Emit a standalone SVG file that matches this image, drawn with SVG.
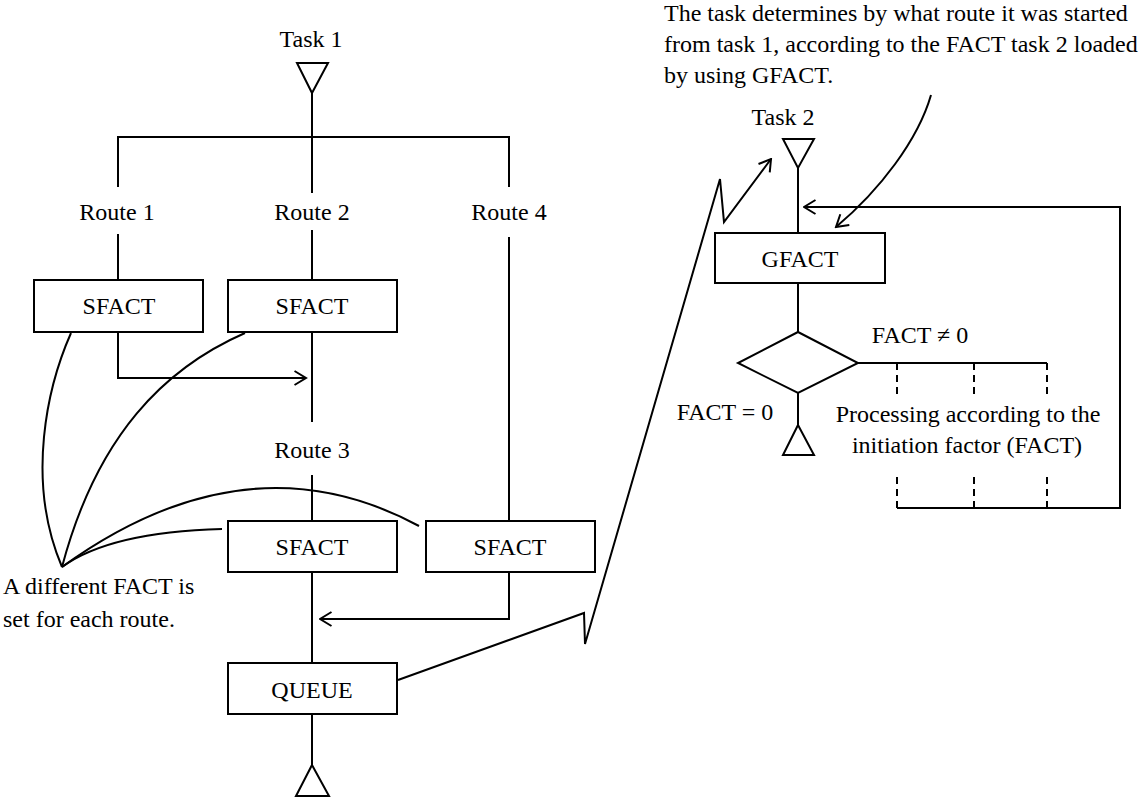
<svg xmlns="http://www.w3.org/2000/svg" width="1140" height="798" viewBox="0 0 1140 798">
  <defs>
    <marker id="open-arrow" viewBox="0 0 14 16" refX="12.5" refY="8" markerWidth="14" markerHeight="16" markerUnits="userSpaceOnUse" orient="auto">
      <path d="M1,1 L12.5,8 L1,15" fill="none" stroke="#000" stroke-width="2"/>
    </marker>
    <style>
      .ln { fill: none; stroke: #000; stroke-width: 2; }
      .dash { fill: none; stroke: #000; stroke-width: 2; stroke-dasharray: 7 5; }
      .box { fill: #fff; stroke: #000; stroke-width: 2; }
      .tri { fill: #fff; stroke: #000; stroke-width: 2; stroke-linejoin: miter; }
      .lbl { font-family: 'Liberation Serif', Tinos, 'DejaVu Serif', serif; font-size: 24px; fill: #000; }
      .c { text-anchor: middle; }
    </style>
  </defs>
  <rect width="1140" height="798" fill="#fff"/>

  <!-- connectors -->
  <g id="connectors">
    <!-- task 1 fan-out -->
    <path class="ln" d="M312,93 V193"/>
    <path class="ln" d="M118,187 V137 H509 V187"/>
    <path class="ln" d="M118,234 V280"/>
    <path class="ln" d="M312,230 V280"/>
    <path class="ln" d="M509,237 V521"/>
    <path class="ln" d="M312,332 V422"/>
    <path class="ln" d="M312,475 V521"/>
    <path class="ln" d="M312,572 V663"/>
    <path class="ln" d="M312,714 V765"/>
    <path class="ln" d="M118,332 V378 H306" marker-end="url(#open-arrow)"/>
    <path class="ln" d="M509,572 V619 H320" marker-end="url(#open-arrow)"/>
    <!-- start of task 2 from QUEUE -->
    <path class="ln" d="M398,680 L584,613 L585,644 L720,179 L724,222 L771,159" marker-end="url(#open-arrow)"/>
    <!-- annotation leaders -->
    <path class="ln" d="M71,333 C48,385 25,480 62,567"/>
    <path class="ln" d="M245,333 C165,368 97,435 62,567"/>
    <path class="ln" d="M222,529 Q110,532 62,567"/>
    <path class="ln" d="M419,526 C330,478 210,460 62,567"/>
    <path class="ln" d="M931,95 C918,140 880,190 836,227" marker-end="url(#open-arrow)"/>
    <!-- task 2 flow -->
    <path class="ln" d="M798,168 V233"/>
    <path class="ln" d="M798,283 V332"/>
    <path class="ln" d="M798,393 V425"/>
    <path class="ln" d="M858,363 H1047"/>
    <path class="dash" d="M897,363 V397 M974,363 V397 M1047,363 V397"/>
    <path class="dash" d="M897,477 V508 M974,477 V508 M1047,477 V508"/>
    <path class="ln" d="M897,508 H1120 V207 H804" marker-end="url(#open-arrow)"/>
  </g>

  <g class="lbl" font-family="Liberation Serif, Tinos, DejaVu Serif, serif" font-size="24">
    <g id="task1">
      <text class="c" x="311" y="47">Task 1</text>
      <polygon class="tri" points="297,63 328,63 312,93"/>
    </g>
    <g id="route1-label"><text class="c" x="117" y="220">Route 1</text></g>
    <g id="route2-label"><text class="c" x="312" y="220">Route 2</text></g>
    <g id="route4-label"><text class="c" x="509" y="220">Route 4</text></g>
    <g id="route3-label"><text class="c" x="312" y="458">Route 3</text></g>

    <g id="sfact1">
      <rect class="box" x="34" y="280" width="169" height="52"/>
      <text class="c" x="119" y="314">SFACT</text>
    </g>
    <g id="sfact2">
      <rect class="box" x="228" y="280" width="169" height="52"/>
      <text class="c" x="312" y="314">SFACT</text>
    </g>
    <g id="sfact3">
      <rect class="box" x="228" y="521" width="169" height="51"/>
      <text class="c" x="312" y="555">SFACT</text>
    </g>
    <g id="sfact4">
      <rect class="box" x="426" y="521" width="169" height="51"/>
      <text class="c" x="510" y="555">SFACT</text>
    </g>
    <g id="queue">
      <rect class="box" x="228" y="663" width="169" height="51"/>
      <text class="c" x="312" y="698">QUEUE</text>
    </g>
    <g id="task1-end">
      <polygon class="tri" points="312,765 329,796 296,796"/>
    </g>

    <g id="note-fact">
      <text x="3" y="594">A different FACT is</text>
      <text x="3" y="627">set for each route.</text>
    </g>

    <g id="note-gfact">
      <text x="664" y="21">The task determines by what route it was started</text>
      <text x="664" y="52">from task 1, according to the FACT task 2 loaded</text>
      <text x="664" y="83">by using GFACT.</text>
    </g>

    <g id="task2">
      <text class="c" x="783" y="125">Task 2</text>
      <polygon class="tri" points="783,139 814,139 798,168"/>
    </g>
    <g id="gfact">
      <rect class="box" x="715" y="233" width="170" height="50"/>
      <text class="c" x="800" y="267">GFACT</text>
    </g>
    <g id="decision">
      <polygon class="tri" points="798,332 858,363 798,393 738,363"/>
      <text class="c" x="920" y="343">FACT ≠ 0</text>
      <text class="c" x="725" y="420">FACT = 0</text>
    </g>
    <g id="task2-end">
      <polygon class="tri" points="798,425 814,455 783,455"/>
    </g>
    <g id="processing">
      <text class="c" x="968" y="422">Processing according to the</text>
      <text class="c" x="967" y="453">initiation factor (FACT)</text>
    </g>
  </g>
</svg>
